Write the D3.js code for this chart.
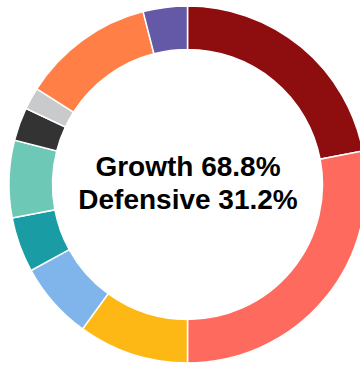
<!DOCTYPE html>
<html>
<head>
<meta charset="utf-8">
<script src="https://cdn.jsdelivr.net/npm/d3@7"></script>
<style>
  html, body { margin: 0; padding: 0; background: #fff; }
  svg { display: block; }
</style>
</head>
<body>
<svg id="chart" width="360" height="365"></svg>
<script>
// Portfolio allocation slices, clockwise from 12 o'clock
const segments = ["S1", "S2", "S3", "S4", "S5", "S6", "S7", "S8", "S9", "S10"];
const weights = [22.0, 28.0, 10.0, 7.0, 5.0, 7.0, 3.0, 2.0, 12.0, 4.0];
const colors = ["#8E0E10", "#FF6A5F", "#FDB816", "#7FB5EB", "#1A9CA4", "#6EC8B6",
                "#333333", "#C9CACB", "#FF7F47", "#6459A7"];
const centerLines = ["Growth 68.8%", "Defensive 31.2%"];

const svg = d3.select("#chart");
const cx = 187.5, cy = 184.5;
const outerR = 178.5, innerR = 135;

const data = segments.map((s, i) => ({ name: s, value: weights[i], color: colors[i] }));

const pie = d3.pie().value(d => d.value).sort(null);
const arc = d3.arc().innerRadius(innerR).outerRadius(outerR);

const g = svg.append("g").attr("transform", `translate(${cx},${cy})`);

g.selectAll("path")
  .data(pie(data))
  .join("path")
  .attr("d", arc)
  .attr("fill", d => d.data.color)
  .attr("stroke", "#fff")
  .attr("stroke-width", 1.5);

g.selectAll("text.center")
  .data(centerLines)
  .join("text")
  .attr("class", "center")
  .attr("x", 0.5)
  .attr("y", (d, i) => -8.5 + i * 33)
  .attr("text-anchor", "middle")
  .attr("font-family", "Liberation Sans, Arial, sans-serif")
  .attr("font-weight", "bold")
  .attr("font-size", 28)
  .attr("fill", "#000")
  .text(d => d);
</script>
</body>
</html>
